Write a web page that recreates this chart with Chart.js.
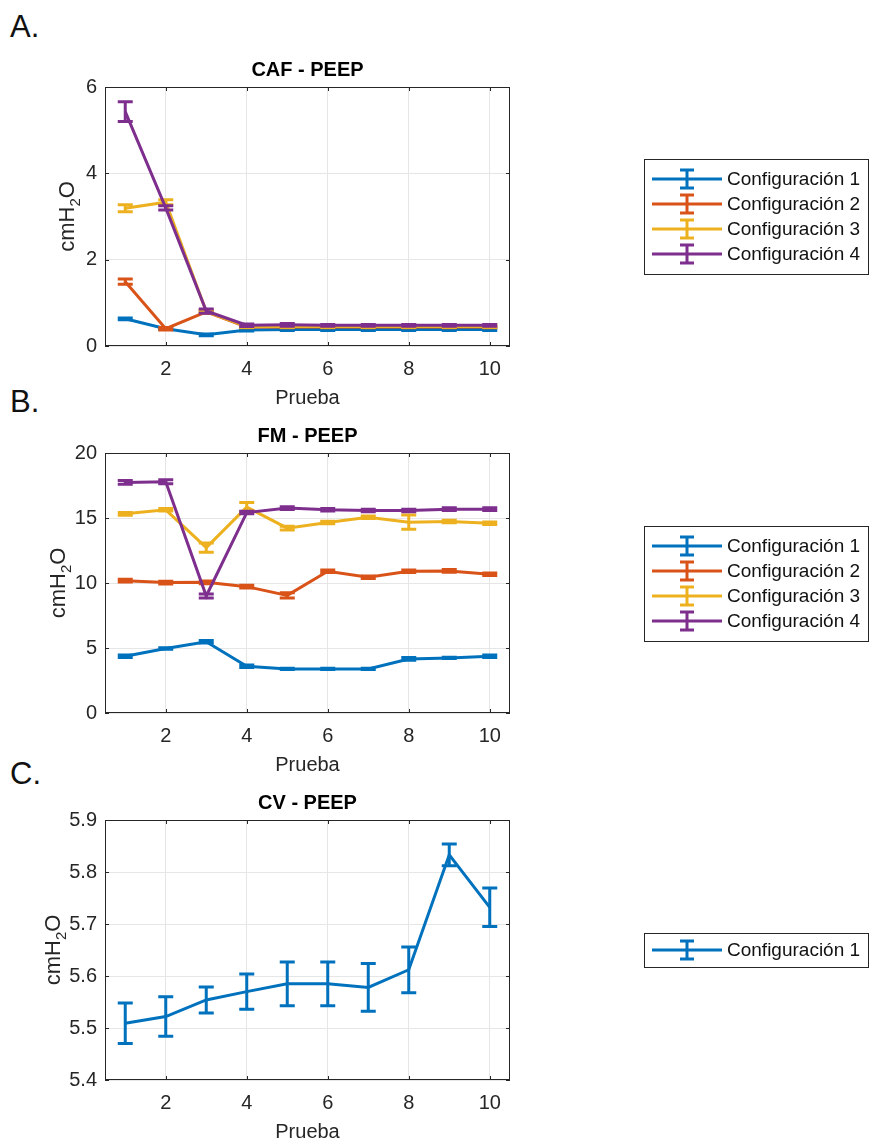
<!DOCTYPE html>
<html>
<head>
<meta charset="utf-8">
<script src="https://cdn.jsdelivr.net/npm/chart.js@4.4.1/dist/chart.umd.min.js"></script>
<style>
  body { margin: 0; background: #fff; width: 872px; height: 1147px; position: relative; overflow: hidden;
         font-family: "Liberation Sans", Arial, sans-serif; }
  .panel { position: absolute; left: 0; }
  .tag { position: absolute; left: 10px; font-size: 31px; line-height: 1; color: #111; }
</style>
</head>
<body>
<div class="tag" style="top:11px">A.</div>
<div class="tag" style="top:386px">B.</div>
<div class="tag" style="top:758px">C.</div>

<div class="panel" style="top:0px"><canvas id="chartA" width="872" height="420"></canvas></div>
<div class="panel" style="top:375px"><canvas id="chartB" width="872" height="420"></canvas></div>
<div class="panel" style="top:750px"><canvas id="chartC" width="872" height="397"></canvas></div>

<script>
const trials = [1, 2, 3, 4, 5, 6, 7, 8, 9, 10];
const xTicks = [2, 4, 6, 8, 10];
const configNames = ['Configuración 1', 'Configuración 2', 'Configuración 3', 'Configuración 4'];
const configColors = ['#0072BD', '#D95319', '#EDB120', '#7E2F8E'];

// A. CAF - PEEP
const cafTicks = [0, 2, 4, 6];
const cafConf1 = [0.63, 0.40, 0.26, 0.37, 0.38, 0.38, 0.38, 0.38, 0.38, 0.38];
const cafConf2 = [1.49, 0.40, 0.79, 0.44, 0.44, 0.44, 0.44, 0.44, 0.44, 0.44];
const cafConf3 = [3.19, 3.33, 0.80, 0.45, 0.45, 0.45, 0.45, 0.45, 0.45, 0.45];
const cafConf4 = [5.43, 3.20, 0.81, 0.48, 0.49, 0.48, 0.48, 0.48, 0.48, 0.48];
const cafErr1 = [0.02, 0.02, 0.02, 0.02, 0.02, 0.02, 0.02, 0.02, 0.02, 0.02];
const cafErr2 = [0.06, 0.03, 0.03, 0.02, 0.02, 0.02, 0.02, 0.02, 0.02, 0.02];
const cafErr3 = [0.08, 0.06, 0.03, 0.02, 0.02, 0.02, 0.02, 0.02, 0.02, 0.02];
const cafErr4 = [0.23, 0.05, 0.05, 0.03, 0.03, 0.02, 0.02, 0.02, 0.02, 0.02];

// B. FM - PEEP
const fmTicks = [0, 5, 10, 15, 20];
const fmConf1 = [4.37, 4.96, 5.48, 3.60, 3.39, 3.39, 3.39, 4.16, 4.24, 4.37];
const fmConf2 = [10.18, 10.03, 10.05, 9.72, 9.05, 10.90, 10.44, 10.90, 10.93, 10.67];
const fmConf3 = [15.32, 15.63, 12.72, 15.84, 14.22, 14.65, 15.06, 14.68, 14.73, 14.60];
const fmConf4 = [17.74, 17.79, 9.00, 15.42, 15.76, 15.63, 15.58, 15.58, 15.68, 15.68];
const fmErr1 = [0.1, 0.05, 0.1, 0.1, 0.05, 0.05, 0.05, 0.1, 0.05, 0.1];
const fmErr2 = [0.1, 0.1, 0.1, 0.1, 0.2, 0.1, 0.1, 0.1, 0.1, 0.1];
const fmErr3 = [0.1, 0.1, 0.35, 0.35, 0.15, 0.1, 0.1, 0.55, 0.1, 0.1];
const fmErr4 = [0.15, 0.15, 0.15, 0.1, 0.1, 0.1, 0.1, 0.1, 0.1, 0.1];

// C. CV - PEEP
const cvTicks = [5.4, 5.5, 5.6, 5.7, 5.8, 5.9];
const cvConf1 = [5.509, 5.522, 5.554, 5.570, 5.585, 5.585, 5.578, 5.612, 5.833, 5.732];
const cvErr1 = [0.039, 0.038, 0.025, 0.034, 0.042, 0.042, 0.046, 0.044, 0.021, 0.037];

Chart.defaults.font.family = '"Liberation Sans", Arial, sans-serif';
const axisColor = '#262626';

// error bars, box, inward ticks, title, y label and legend in MATLAB style
const matlabDeco = {
  id: 'matlabDeco',
  afterDatasetDraw(chart, args) {
    const ds = chart.data.datasets[args.index];
    if (!ds.errors) return;
    const ctx = chart.ctx;
    const xs = chart.scales.x, ys = chart.scales.y;
    ctx.save();
    ctx.strokeStyle = ds.borderColor;
    ctx.lineWidth = 3;
    ds.data.forEach((p, i) => {
      const px = xs.getPixelForValue(p.x);
      const yTop = ys.getPixelForValue(p.y + ds.errors[i]);
      const yBot = ys.getPixelForValue(p.y - ds.errors[i]);
      ctx.beginPath();
      ctx.moveTo(px, yTop); ctx.lineTo(px, yBot);
      ctx.moveTo(px - 7.5, yTop); ctx.lineTo(px + 7.5, yTop);
      ctx.moveTo(px - 7.5, yBot); ctx.lineTo(px + 7.5, yBot);
      ctx.stroke();
    });
    ctx.restore();
  },
  afterDraw(chart, args, opts) {
    const ctx = chart.ctx;
    const ca = chart.chartArea;
    const xs = chart.scales.x, ys = chart.scales.y;
    ctx.save();

    // box
    ctx.strokeStyle = axisColor;
    ctx.lineWidth = 1;
    ctx.strokeRect(ca.left + 0.5, ca.top + 0.5, ca.right - ca.left - 1, ca.bottom - ca.top - 1);

    // inward ticks
    ctx.beginPath();
    xs.ticks.forEach(t => {
      const px = Math.round(xs.getPixelForValue(t.value)) + 0.5;
      ctx.moveTo(px, ca.bottom); ctx.lineTo(px, ca.bottom - 4);
      ctx.moveTo(px, ca.top); ctx.lineTo(px, ca.top + 4);
    });
    ys.ticks.forEach(t => {
      const py = Math.round(ys.getPixelForValue(t.value)) + 0.5;
      ctx.moveTo(ca.left, py); ctx.lineTo(ca.left + 4, py);
      ctx.moveTo(ca.right, py); ctx.lineTo(ca.right - 4, py);
    });
    ctx.stroke();

    // title
    ctx.fillStyle = '#000';
    ctx.font = 'bold 20px "Liberation Sans", Arial, sans-serif';
    ctx.textAlign = 'center';
    ctx.textBaseline = 'middle';
    ctx.fillText(opts.title, (ca.left + ca.right) / 2, ca.top - 17);

    // y label cmH2O
    const cy = (ca.top + ca.bottom) / 2;
    ctx.translate(opts.ylabelX, cy);
    ctx.rotate(-Math.PI / 2);
    ctx.fillStyle = axisColor;
    ctx.textAlign = 'left';
    ctx.textBaseline = 'alphabetic';
    const big = '22px "Liberation Sans", Arial, sans-serif';
    const small = '15px "Liberation Sans", Arial, sans-serif';
    ctx.font = big;
    const w1 = ctx.measureText('cmH').width, w3 = ctx.measureText('O').width;
    ctx.font = small;
    const w2 = ctx.measureText('2').width;
    let x0 = -(w1 + w2 + w3) / 2;
    ctx.font = big; ctx.fillText('cmH', x0, 0);
    ctx.font = small; ctx.fillText('2', x0 + w1, 6);
    ctx.font = big; ctx.fillText('O', x0 + w1 + w2, 0);
    ctx.setTransform(1, 0, 0, 1, 0, 0);

    // legend
    const items = chart.data.datasets;
    const n = items.length;
    const pad = n > 1 ? 20 : 17;
    const rowH = 25;
    const boxH = rowH * (n - 1) + 2 * pad;
    const boxL = ca.right + 134, boxW = 224;
    const boxT = Math.round(cy - boxH / 2);
    ctx.fillStyle = '#fff';
    ctx.fillRect(boxL, boxT, boxW, boxH);
    ctx.strokeStyle = axisColor;
    ctx.lineWidth = 1;
    ctx.strokeRect(boxL + 0.5, boxT + 0.5, boxW, boxH);
    ctx.font = '19px "Liberation Sans", Arial, sans-serif';
    ctx.textBaseline = 'middle';
    ctx.textAlign = 'left';
    items.forEach((ds, i) => {
      const ry = boxT + pad + i * rowH;
      const ix = boxL + 43;
      ctx.strokeStyle = ds.borderColor;
      ctx.lineWidth = 3;
      ctx.beginPath();
      ctx.moveTo(boxL + 8, ry); ctx.lineTo(boxL + 78, ry);
      ctx.moveTo(ix, ry - 9); ctx.lineTo(ix, ry + 9);
      ctx.moveTo(ix - 7, ry - 9); ctx.lineTo(ix + 7, ry - 9);
      ctx.moveTo(ix - 7, ry + 9); ctx.lineTo(ix + 7, ry + 9);
      ctx.stroke();
      ctx.fillStyle = '#111';
      ctx.fillText(ds.label, boxL + 83, ry + 1);
    });
    ctx.restore();
  }
};

function makeChart(id, cfg) {
  const datasets = cfg.values.map((vals, i) => ({
    label: configNames[i],
    data: trials.map((t, k) => ({ x: t, y: vals[k] })),
    errors: cfg.errors[i],
    borderColor: configColors[i],
    backgroundColor: configColors[i],
    borderWidth: 3,
    pointRadius: 0,
    tension: 0,
    order: cfg.values.length - i
  }));
  return new Chart(document.getElementById(id), {
    type: 'line',
    data: { datasets },
    options: {
      responsive: false,
      animation: false,
      layout: { padding: { top: cfg.padTop, bottom: cfg.padBottom, left: 0, right: 362 } },
      plugins: {
        legend: { display: false },
        tooltip: { enabled: false },
        matlabDeco: { title: cfg.title, ylabelX: cfg.ylabelX }
      },
      scales: {
        x: {
          type: 'linear', min: 0.5, max: 10.5,
          afterBuildTicks: s => { s.ticks = xTicks.map(v => ({ value: v })); },
          afterFit: s => { s.height = 64; },
          grid: { color: '#e6e6e6', drawTicks: false },
          border: { display: false },
          ticks: { padding: 11, color: axisColor, font: { size: 20 }, maxRotation: 0 },
          title: { display: true, text: 'Prueba', color: axisColor, font: { size: 20 }, padding: { top: 0, bottom: 0 } }
        },
        y: {
          type: 'linear', min: cfg.yTicks[0], max: cfg.yTicks[cfg.yTicks.length - 1],
          afterBuildTicks: s => { s.ticks = cfg.yTicks.map(v => ({ value: v })); },
          afterFit: s => { s.width = 105; },
          grid: { color: '#e6e6e6', drawTicks: false },
          border: { display: false },
          ticks: { padding: 8, color: axisColor, font: { size: 20 }, callback: v => v.toFixed(cfg.decimals) }
        }
      }
    },
    plugins: [matlabDeco]
  });
}

makeChart('chartA', {
  title: 'CAF - PEEP', yTicks: cafTicks, decimals: 0, ylabelX: 74, padTop: 87, padBottom: 10,
  values: [cafConf1, cafConf2, cafConf3, cafConf4],
  errors: [cafErr1, cafErr2, cafErr3, cafErr4]
});
makeChart('chartB', {
  title: 'FM - PEEP', yTicks: fmTicks, decimals: 0, ylabelX: 65, padTop: 78, padBottom: 18,
  values: [fmConf1, fmConf2, fmConf3, fmConf4],
  errors: [fmErr1, fmErr2, fmErr3, fmErr4]
});
makeChart('chartC', {
  title: 'CV - PEEP', yTicks: cvTicks, decimals: 1, ylabelX: 60, padTop: 70, padBottom: 3,
  values: [cvConf1],
  errors: [cvErr1]
});
</script>
</body>
</html>
